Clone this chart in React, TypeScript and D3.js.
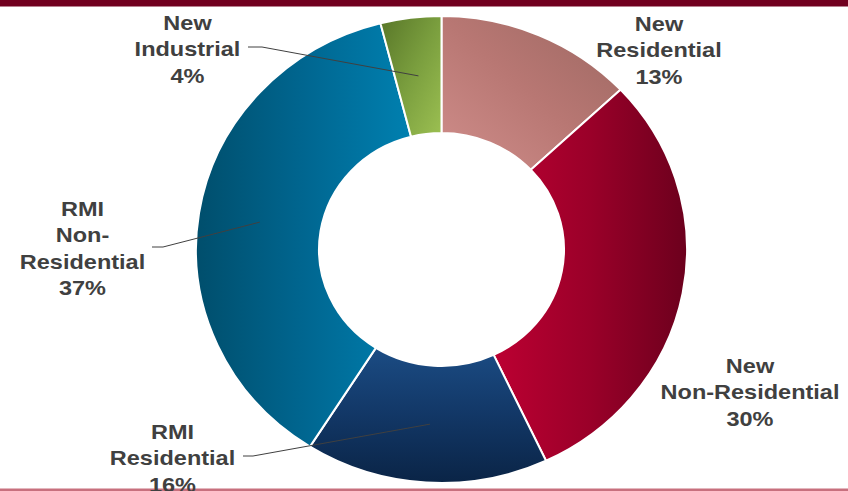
import React from "react";
import * as d3 from "d3";

const categories = ["New Residential", "New Non-Residential", "RMI Residential", "RMI Non-Residential", "New Industrial"];
const values = [13, 30, 16, 37, 4];
const labelLines = [
  ["New", "Residential", "13%"],
  ["New", "Non-Residential", "30%"],
  ["RMI", "Residential", "16%"],
  ["RMI", "Non-", "Residential", "37%"],
  ["New", "Industrial", "4%"],
];

// layout (not data)
const W = 848, H = 491;
const CX = 441.5, CY = 249.5;
const RY = 233.5, RX = 245.5;
const SX = RX / RY;
const INNER = 116.5;
const FONT = 21;
const TEXT_SX = 1.12;
const LINE_H = 26.5;
const labelPos = [
  { x: 659, y: 31, leader: null },
  { x: 750, y: 373, leader: null },
  { x: 172.5, y: 439, leader: { x: 243, y: 456, kx: 253 } },
  { x: 82.5, y: 216, leader: { x: 152, y: 247, kx: 163 } },
  { x: 187.5, y: 30, leader: { x: 248, y: 47, kx: 262 } },
];
const gradients = [
  { id: "g0", x1: "0", y1: "1", x2: "1", y2: "0", stops: ["#d08e8b", "#b87773", "#9c6862"] },
  { id: "g1", x1: "0", y1: "0", x2: "1", y2: "0", stops: ["#bc0032", "#9a0029", "#6c001d"] },
  { id: "g2", x1: "0", y1: "0", x2: "0", y2: "1", stops: ["#1b4c84", "#123766", "#0a2446"] },
  { id: "g3", x1: "0", y1: "0", x2: "1", y2: "0", stops: ["#004e6c", "#006690", "#0080b0"] },
  { id: "g4", x1: "0", y1: "0", x2: "1", y2: "1", stops: ["#587628", "#7a9e3e", "#9cc052"] },
];

export default function App() {
  const pie = d3.pie<number>().sort(null).value((d) => d)(values);
  const arc = d3.arc<d3.PieArcDatum<number>>().innerRadius(INNER).outerRadius(RY);

  return (
    <svg width={W} height={H} style={{ position: "absolute", left: 0, top: 0, display: "block" }}
      fontFamily="'Liberation Sans', Arial, sans-serif">
      <defs>
        {gradients.map((g) => (
          <linearGradient key={g.id} id={g.id} x1={g.x1} y1={g.y1} x2={g.x2} y2={g.y2}>
            {g.stops.map((c, i) => (
              <stop key={i} offset={i / (g.stops.length - 1)} stopColor={c} />
            ))}
          </linearGradient>
        ))}
      </defs>
      <rect x={0} y={0} width={W} height={H} fill="#ffffff" />
      <rect x={0} y={0} width={W} height={6.5} fill="#71001f" />
      <rect x={0} y={488.5} width={W} height={2.5} fill="#c8707e" />
      <g transform={`translate(${CX},${CY}) scale(${SX},1)`}>
        {pie.map((d, i) => (
          <path key={categories[i]} d={arc(d) || ""} fill={`url(#${gradients[i].id})`}
            stroke="#ffffff" strokeWidth={2} vectorEffect="non-scaling-stroke" strokeLinejoin="round" />
        ))}
      </g>
      {pie.map((d, i) => {
        const L = labelPos[i].leader;
        if (!L) return null;
        const [cx, cy] = arc.centroid(d);
        const ex = CX + cx * SX, ey = CY + cy;
        return (
          <polyline key={"l" + i} points={`${L.x},${L.y} ${L.kx},${L.y} ${ex},${ey}`}
            fill="none" stroke="#404040" strokeWidth={1} />
        );
      })}
      {labelLines.map((lines, i) => (
        <g key={"t" + i} transform={`translate(${labelPos[i].x},0) scale(${TEXT_SX},1)`}>
          <text textAnchor="middle" fontSize={FONT} fontWeight="bold" fill="#404040">
            {lines.map((t, j) => (
              <tspan key={j} x={0} y={labelPos[i].y + j * LINE_H}>{t}</tspan>
            ))}
          </text>
        </g>
      ))}
    </svg>
  );
}
